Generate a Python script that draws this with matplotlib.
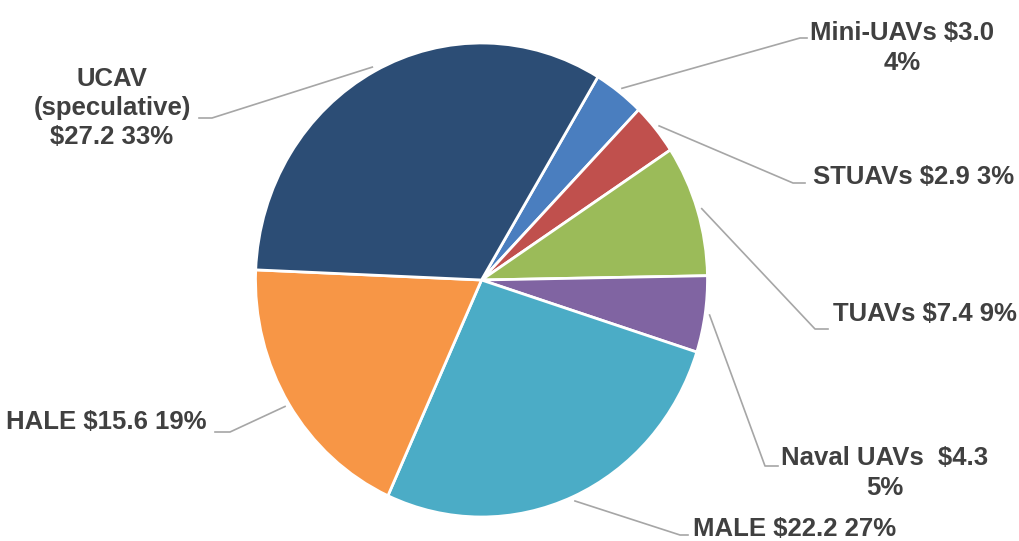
import numpy as np
import matplotlib
matplotlib.use("Agg")
import matplotlib.pyplot as plt

# UAV market segments (billions $), clockwise from the top
names = ["Mini-UAVs", "STUAVs", "TUAVs", "Naval UAVs ", "MALE", "HALE", "UCAV\n(speculative)"]
values = [3.0, 2.9, 7.4, 4.3, 22.2, 15.6, 27.2]
pcts = [4, 3, 9, 5, 27, 19, 33]
name_sep = [" ", " ", " ", " ", " ", " ", "\n"]
pct_sep = ["\n", " ", " ", "\n", " ", " ", " "]
colors = ["#4A7EBF", "#C0504D", "#9BBB59", "#8064A2", "#4BACC6", "#F79646", "#2C4D75"]

W, H = 1019, 541
fig = plt.figure(figsize=(W / 100, H / 100), dpi=100)

# pie is slightly taller than wide in the reference
cx, cy, rx, ry = 481.5, 280, 226, 237
ax = fig.add_axes([(cx - rx) / W, (H - cy - ry) / H, 2 * rx / W, 2 * ry / H])
start = 59
wedges, _ = ax.pie(values, colors=colors, startangle=start, counterclock=False,
                   wedgeprops=dict(edgecolor="white", linewidth=2))
ax.set_aspect("auto")
ax.set_xlim(-1, 1)
ax.set_ylim(-1, 1)
ax.axis("off")

# overlay in pixel coords (top-left origin) for labels and leader lines
ov = fig.add_axes([0, 0, 1, 1], zorder=-1)
ov.set_xlim(0, W)
ov.set_ylim(H, 0)
ov.axis("off")

# text anchor (x, y, ha), elbow point, end of line near the text
layout = [
    ((902, 48, "center"), (800, 38), (807, 38)),
    ((813, 177, "left"), (793, 183), (805, 183)),
    ((833, 314, "left"), (815, 329), (828, 329)),
    ((885, 473, "center"), (765, 466), (778, 466)),
    ((693, 529, "left"), (680, 535), (688, 535)),
    ((207, 422, "right"), (230, 432), (215, 432)),
    ((112, 108, "center"), (212, 118), (199, 118)),
]

for w, name, v, p, s1, s2, (txt, elbow, end) in zip(wedges, names, values, pcts,
                                                     name_sep, pct_sep, layout):
    mid = np.deg2rad((w.theta1 + w.theta2) / 2)
    sx = cx + 1.02 * rx * np.cos(mid)
    sy = cy - 1.02 * ry * np.sin(mid)
    ov.plot([sx, elbow[0], end[0]], [sy, elbow[1], end[1]], color="#A6A6A6", lw=1.2)
    label = f"{name}{s1}${v:.1f}{s2}{p}%"
    ov.text(txt[0], txt[1], label, ha=txt[2], va="center", fontsize=18.5,
            fontweight="bold", color="#404040", family="Liberation Sans",
            linespacing=1.27)

fig.savefig("out.png", dpi=100)
